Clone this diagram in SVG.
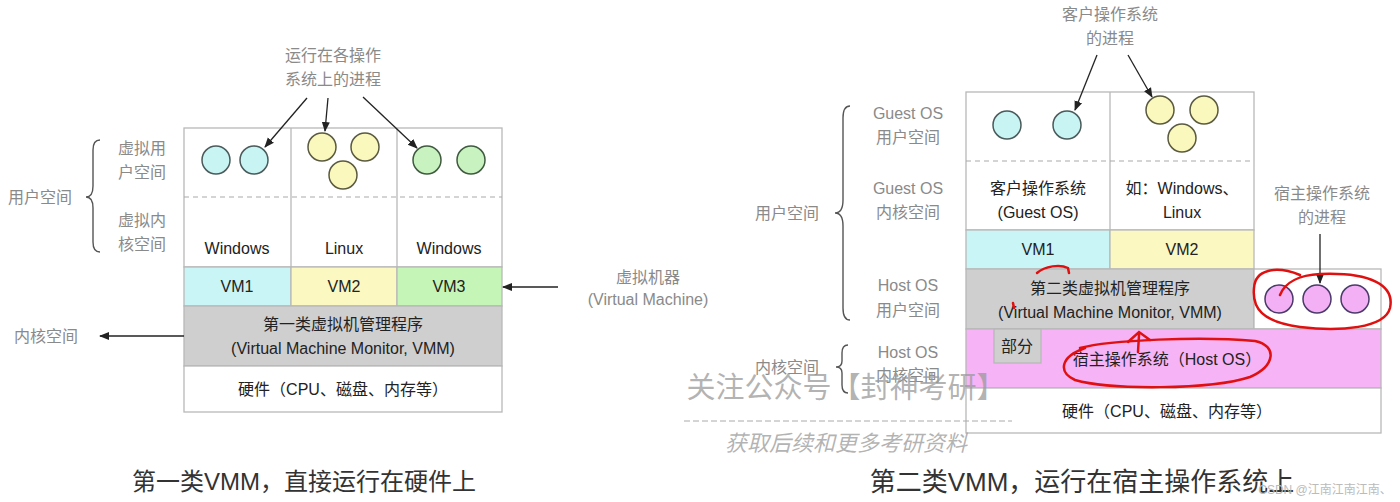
<svg xmlns="http://www.w3.org/2000/svg" width="1400" height="502" viewBox="0 0 1400 502">
<defs>
<style>
text{font-family:"Liberation Sans","Noto Sans CJK SC",sans-serif;text-anchor:middle;dominant-baseline:central}
.g{fill:#8a8a8a;font-size:16px}
.t{fill:#222;font-size:16px}
.ttl{fill:#333;font-size:24px}
.cell{stroke:#b8b8b8;stroke-width:1.3}
.dash{stroke:#aaa;stroke-width:1.2;stroke-dasharray:5 4}
.cc{fill:#c8f4f4;stroke:#4a5a5a;stroke-width:1.5}
.yc{fill:#fbf8bd;stroke:#5a5a40;stroke-width:1.5}
.gc{fill:#c8f3c0;stroke:#3f5a3f;stroke-width:1.5}
.pc{fill:#f4b0f4;stroke:#4a3a6a;stroke-width:1.5}
.con{stroke:#222;stroke-width:1.3;fill:none}
.brace{stroke:#555;stroke-width:1.4;fill:none}
.red{stroke:#e01010;stroke-width:2.5;fill:none;stroke-linecap:round}
.wm{fill:#9a9a9a;fill-opacity:0.75}
</style>
<marker id="ah" viewBox="0 0 10 10" refX="9" refY="5" markerWidth="10" markerHeight="10" markerUnits="userSpaceOnUse" orient="auto">
<path d="M0,1 L10,5 L0,9 z" fill="#222"/>
</marker>
</defs>
<rect width="1400" height="502" fill="#fff"/>

<!-- LEFT: Type 1 VMM -->
<g id="left-guest">
<rect class="cell" x="184" y="128" width="318" height="139" fill="#fff"/>
<line class="cell" x1="291" y1="128" x2="291" y2="267"/>
<line class="cell" x1="397" y1="128" x2="397" y2="267"/>
<line class="dash" x1="184" y1="197" x2="502" y2="197"/>
<circle class="cc" cx="216" cy="160" r="14"/>
<circle class="cc" cx="254" cy="160" r="14"/>
<circle class="yc" cx="322" cy="147" r="14"/>
<circle class="yc" cx="365" cy="147" r="14"/>
<circle class="yc" cx="343" cy="175" r="14"/>
<circle class="gc" cx="427" cy="160" r="14"/>
<circle class="gc" cx="471" cy="160" r="14"/>
<text class="t" x="237" y="248">Windows</text>
<text class="t" x="344" y="248">Linux</text>
<text class="t" x="449" y="248">Windows</text>
</g>
<g id="left-vm1"><rect class="cell" x="184" y="267" width="107" height="39" fill="#c9f5f7"/><text class="t" x="237" y="286">VM1</text></g>
<g id="left-vm2"><rect class="cell" x="291" y="267" width="106" height="39" fill="#fbf8c2"/><text class="t" x="344" y="286">VM2</text></g>
<g id="left-vm3"><rect class="cell" x="397" y="267" width="105" height="39" fill="#c6f5b8"/><text class="t" x="449" y="286">VM3</text></g>
<g id="left-vmm"><rect class="cell" x="184" y="306" width="318" height="60" fill="#cfcfcf"/>
<text class="t" x="343" y="324">第一类虚拟机管理程序</text>
<text class="t" x="343" y="348">(Virtual Machine Monitor, VMM)</text></g>
<g id="left-hw"><rect class="cell" x="184" y="366" width="318" height="46" fill="#fff"/>
<text class="t" x="343" y="389">硬件（CPU、磁盘、内存等）</text></g>

<g id="left-labels">
<text class="g" x="333" y="55">运行在各操作</text>
<text class="g" x="333" y="79">系统上的进程</text>
<text class="g" x="40" y="197">用户空间</text>
<text class="g" x="142" y="148">虚拟用</text>
<text class="g" x="142" y="172">户空间</text>
<text class="g" x="142" y="220">虚拟内</text>
<text class="g" x="142" y="244">核空间</text>
<text class="g" x="46" y="336">内核空间</text>
<text class="g" x="648" y="277">虚拟机器</text>
<text class="g" x="648" y="299">(Virtual Machine)</text>
<path class="brace" d="M100,140 Q93,140 93,150 L93,186 Q93,197 86,197 Q93,197 93,208 L93,242 Q93,252 100,252"/>
</g>

<!-- RIGHT: Type 2 VMM -->
<g id="right-guest">
<rect class="cell" x="966" y="92" width="288" height="138" fill="#fff"/>
<line class="cell" x1="1110" y1="92" x2="1110" y2="230"/>
<line class="dash" x1="966" y1="161" x2="1254" y2="161"/>
<circle class="cc" cx="1007" cy="125" r="14"/>
<circle class="cc" cx="1067" cy="125" r="14"/>
<circle class="yc" cx="1160" cy="110" r="14"/>
<circle class="yc" cx="1204" cy="110" r="14"/>
<circle class="yc" cx="1182" cy="138" r="14"/>
<text class="t" x="1038" y="188">客户操作系统</text>
<text class="t" x="1038" y="212">(Guest OS)</text>
<text class="t" x="1182" y="188">如：Windows、</text>
<text class="t" x="1182" y="212">Linux</text>
</g>
<g id="right-vm1"><rect class="cell" x="966" y="230" width="144" height="39" fill="#c9f5f7"/><text class="t" x="1038" y="249">VM1</text></g>
<g id="right-vm2"><rect class="cell" x="1110" y="230" width="144" height="39" fill="#fbf8c2"/><text class="t" x="1182" y="249">VM2</text></g>
<g id="right-vmm"><rect class="cell" x="966" y="269" width="288" height="60" fill="#cfcfcf"/>
<text class="t" x="1110" y="288">第二类虚拟机管理程序</text>
<text class="t" x="1110" y="312">(Virtual Machine Monitor, VMM)</text></g>
<g id="right-hostproc"><rect class="cell" x="1254" y="269" width="127" height="60" fill="#fff"/>
<circle class="pc" cx="1279" cy="299" r="14"/>
<circle class="pc" cx="1317" cy="299" r="14"/>
<circle class="pc" cx="1355" cy="299" r="14"/></g>
<g id="right-hostos"><rect class="cell" x="966" y="329" width="415" height="59" fill="#f6b3f6"/>
<text class="t" x="1167" y="359">宿主操作系统（Host OS）</text></g>
<g id="right-part"><rect class="cell" x="994" y="329" width="47" height="34" fill="#cfcfcf"/>
<text class="t" x="1017" y="346">部分</text></g>
<g id="right-hw"><rect class="cell" x="966" y="388" width="415" height="45" fill="#fff"/>
<text class="t" x="1167" y="411">硬件（CPU、磁盘、内存等）</text></g>

<g id="right-labels">
<text class="g" x="1110" y="14">客户操作系统</text>
<text class="g" x="1110" y="38">的进程</text>
<text class="g" x="1322" y="193">宿主操作系统</text>
<text class="g" x="1322" y="217">的进程</text>
<text class="g" x="787" y="213">用户空间</text>
<text class="g" x="908" y="113">Guest OS</text>
<text class="g" x="908" y="137">用户空间</text>
<text class="g" x="908" y="188">Guest OS</text>
<text class="g" x="908" y="212">内核空间</text>
<text class="g" x="908" y="285">Host OS</text>
<text class="g" x="908" y="310">用户空间</text>
<text class="g" x="908" y="352">Host OS</text>
<text class="g" x="908" y="375">内核空间</text>
<text class="g" x="787" y="367">内核空间</text>
<path class="brace" d="M850,106 Q843,106 843,118 L843,200 Q843,213 835,213 Q843,213 843,226 L843,308 Q843,320 850,320"/>
<path class="brace" d="M848,345 Q842,345 842,353 L842,361 Q842,367 836,367 Q842,367 842,373 L842,385 Q842,393 848,393"/>
</g>

<g id="connectors">
<line class="con" x1="307" y1="98" x2="265" y2="147" marker-end="url(#ah)"/>
<line class="con" x1="328" y1="98" x2="325" y2="131" marker-end="url(#ah)"/>
<line class="con" x1="363" y1="97" x2="417" y2="148" marker-end="url(#ah)"/>
<line class="con" x1="558" y1="287" x2="503" y2="287" marker-end="url(#ah)"/>
<line class="con" x1="184" y1="336" x2="100" y2="336" marker-end="url(#ah)"/>
<line class="con" x1="1097" y1="55" x2="1075" y2="110" marker-end="url(#ah)"/>
<line class="con" x1="1128" y1="55" x2="1152" y2="97" marker-end="url(#ah)"/>
<line class="con" x1="1320" y1="234" x2="1320" y2="283" marker-end="url(#ah)"/>
</g>

<g id="red-annotations">
<path class="red" d="M1300,275 C1275,265 1255,270 1254,288 C1252,308 1262,322 1300,327 C1340,332 1385,328 1390,308 C1395,285 1370,272 1320,274 C1300,275 1285,282 1280,295"/>
<path class="red" d="M1080,348 C1110,340 1200,336 1255,341 C1278,346 1275,366 1250,377 C1210,390 1110,390 1075,380 C1058,372 1060,357 1085,348"/>
<path class="red" d="M1138,352 L1139,335 M1128,342 L1139,332 L1150,340"/>
<path class="red" d="M1037,273 C1045,266 1060,264 1068,268 L1069,273" stroke-width="1.8"/>
<path class="red" d="M1013,303 L1014,308" stroke-width="1.5"/>
</g>

<g id="titles">
<text class="ttl" x="304" y="481">第一类VMM，直接运行在硬件上</text>
<text class="ttl" x="1082" y="482" style="font-size:26px">第二类VMM，运行在宿主操作系统上</text>
</g>

<g id="watermark">
<text class="wm" x="846" y="388" style="font-size:29px">关注公众号【封神考研】</text>
<line x1="684" y1="421" x2="1012" y2="421" stroke="#aaa" stroke-width="1" stroke-dasharray="6 3"/>
<text class="wm" x="846" y="443" style="font-size:22px;font-style:italic">获取后续和更多考研资料</text>
<text x="1325" y="490" style="font-size:12px;fill:#bbb">CSDN @江南江南江南、</text>
</g>
</svg>
